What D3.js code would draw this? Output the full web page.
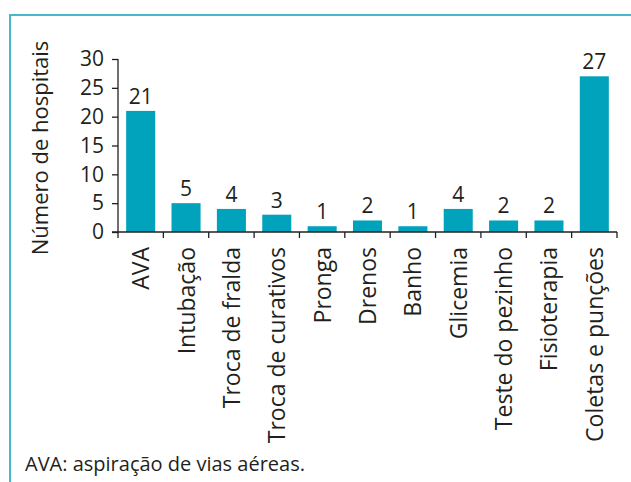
<!DOCTYPE html>
<html>
<head>
    <meta charset="utf-8">
    <title>Procedimentos</title>
    <script src="https://cdn.jsdelivr.net/npm/d3@7"></script>
    <style>
        body { margin: 0; background: #fff; }
        text { font-family: "Open Sans", sans-serif; fill: #231f20; }
    </style>
</head>
<body>
    <svg width="631" height="482" id="mainsvg"></svg>
    <script>
        const categories = ['AVA', 'Intubação', 'Troca de fralda', 'Troca de curativos', 'Pronga', 'Drenos',
            'Banho', 'Glicemia', 'Teste do pezinho', 'Fisioterapia', 'Coletas e punções'];
        const values = [21, 5, 4, 3, 1, 2, 1, 4, 2, 2, 27];
        const yTicks = [0, 5, 10, 15, 20, 25, 30];
        const yTitle = 'Número de hospitais';
        const footnote = 'AVA: aspiração de vias aéreas.';

        const svg = d3.select('svg');
        const barColor = '#00a3bb';
        const frameColor = '#45b9ca';
        const ink = '#231f20';

        // frame: top and left line only
        svg.append('path')
            .attr('d', 'M 10 482 V 15 H 631')
            .attr('fill', 'none').attr('stroke', frameColor).attr('stroke-width', 2);

        const x = d3.scaleBand().domain(categories).range([118, 617]).padding(0);
        const y = d3.scaleLinear().domain([0, 30]).range([232, 59]);
        const barW = x.bandwidth() * 0.64;

        // bars
        svg.selectAll('.bar').data(values).join('rect').attr('class', 'bar')
            .attr('x', (d, i) => x(categories[i]) + (x.bandwidth() - barW) / 2)
            .attr('y', d => y(d))
            .attr('width', barW)
            .attr('height', d => y(0) - y(d))
            .attr('fill', barColor);

        // value labels
        svg.selectAll('.val').data(values).join('text').attr('class', 'val')
            .attr('x', (d, i) => x(categories[i]) + x.bandwidth() / 2)
            .attr('y', d => y(d) - 7)
            .attr('text-anchor', 'middle')
            .attr('font-size', 21)
            .text(d => d);

        // y axis
        const yAxis = svg.append('g').attr('transform', 'translate(118,0)')
            .call(d3.axisLeft(y).tickValues(yTicks).tickSize(6).tickPadding(8));
        yAxis.select('.domain').attr('d', `M0,${y(30)}V${y(0)}`).attr('stroke', ink).attr('stroke-width', 1.3);
        yAxis.selectAll('line').attr('stroke', ink).attr('stroke-width', 1.3);
        yAxis.selectAll('text').attr('font-size', 21).attr('fill', ink)
            .attr('font-family', '"Open Sans", sans-serif');

        // x axis line and ticks at band boundaries
        const gx = svg.append('g');
        gx.append('line').attr('x1', 112).attr('x2', 617).attr('y1', y(0)).attr('y2', y(0))
            .attr('stroke', ink).attr('stroke-width', 1.3);
        const bounds = categories.map(c => x(c)).concat([x.range()[1]]);
        gx.selectAll('.xt').data(bounds).join('line').attr('class', 'xt')
            .attr('x1', d => d).attr('x2', d => d)
            .attr('y1', y(0)).attr('y2', y(0) + 6)
            .attr('stroke', ink).attr('stroke-width', 1.3);

        // category labels
        gx.selectAll('.cat').data(categories).join('text').attr('class', 'cat')
            .attr('transform', d => `translate(${x(d) + x.bandwidth() / 2 + 8.5},247) rotate(-90)`)
            .attr('text-anchor', 'end')
            .attr('font-size', 23)
            .text(d => d);

        // y title
        svg.append('text')
            .attr('transform', 'translate(48,148) rotate(-90)')
            .attr('text-anchor', 'middle')
            .attr('font-size', 22)
            .text(yTitle);

        // footnote
        svg.append('text')
            .attr('x', 25).attr('y', 471)
            .attr('font-size', 20)
            .text(footnote);
    </script>
</body>
</html>
